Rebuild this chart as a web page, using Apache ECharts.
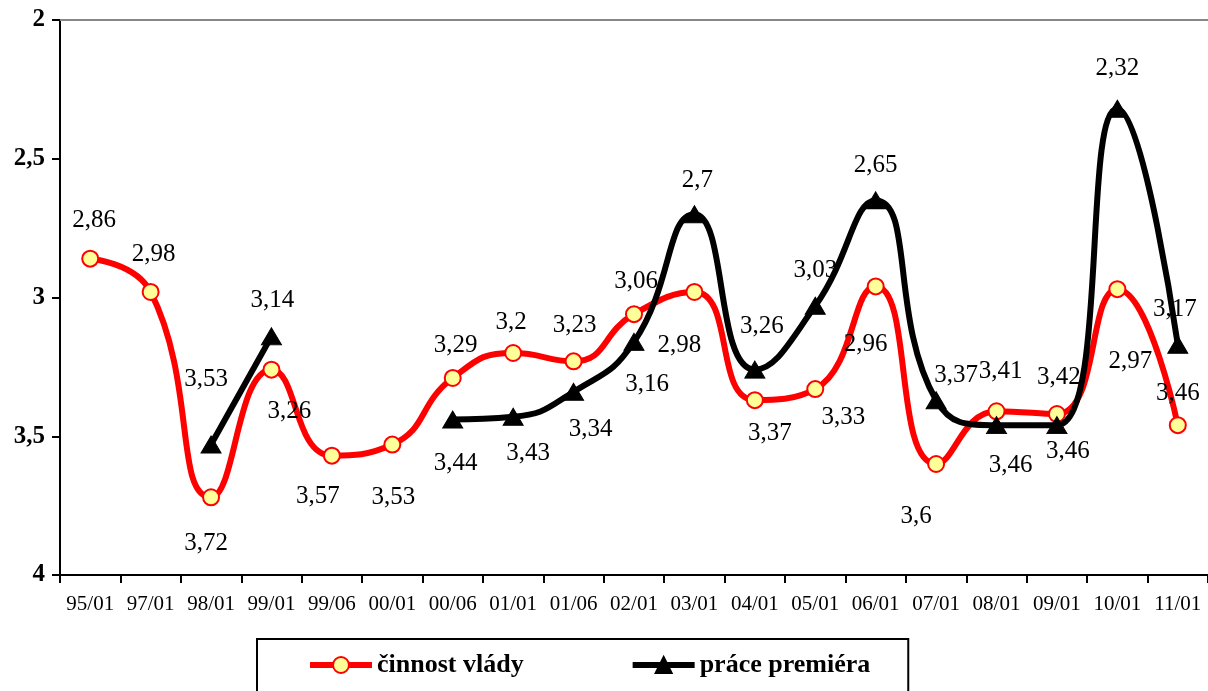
<!DOCTYPE html>
<html>
<head>
<meta charset="utf-8">
<script src="https://cdn.jsdelivr.net/npm/echarts@6/dist/echarts.min.js"></script>
<style>
html,body{margin:0;padding:0;background:#fff;}
#chart{width:1208px;height:691px;}
</style>
</head>
<body>
<div id="chart"></div>
<script>
var categories = ['95/01','97/01','98/01','99/01','99/06','00/01','00/06','01/01','01/06','02/01','03/01','04/01','05/01','06/01','07/01','08/01','09/01','10/01','11/01'];
var vladaValues = [2.86, 2.98, 3.72, 3.26, 3.57, 3.53, 3.29, 3.2, 3.23, 3.06, 2.98, 3.37, 3.33, 2.96, 3.6, 3.41, 3.42, 2.97, 3.46];
var premierValues = [null, null, 3.53, 3.14, null, null, 3.44, 3.43, 3.34, 3.16, 2.7, 3.26, 3.03, 2.65, 3.37, 3.46, 3.46, 2.32, 3.17];
var yTicks = [2, 2.5, 3, 3.5, 4];
var seriesNames = ['činnost vlády', 'práce premiéra'];

// label offsets (pixels, relative to the marker centre)
var vladaLabelOffsets = [[4,-38],[3,-38],[-5,46],[18,42],[-14,41],[1,53],[3,-33],[-2,-31],[1,-36],[2,-33],[-15,53],[15,33],[28,28],[-10,58],[-20,52],[4,-40],[2,-37],[13,72],[0,-32]];
var premierLabelOffsets = [null,null,[-5,-65],[1,-36],null,null,[3,44],[15,37],[17,38],[13,43],[3,-34],[7,-43],[0,-35],[0,-35],[20,-25],[14,40],[11,26],[0,-40],[-3,-35]];

var FONT = '"Liberation Serif", "Times New Roman", serif';
function fmt(v){ return String(v).replace('.', ','); }

function buildData(values, offsets){
  return values.map(function(v, i){
    if (v === null) return null;
    return { value: v, label: { offset: offsets[i] } };
  });
}

var chart = echarts.init(document.getElementById('chart'), null, {renderer:'canvas'});
chart.setOption({
  animation: false,
  backgroundColor: '#ffffff',
  grid: { left: 60, right: 0, top: 20, bottom: 116 },
  xAxis: [{
    type: 'category',
    data: categories,
    position: 'bottom',
    boundaryGap: true,
    axisLine: { onZero: false, lineStyle: { color: '#000', width: 2 } },
    axisTick: { show: true, alignWithLabel: false, length: 8, lineStyle: { color: '#000', width: 2 } },
    axisLabel: { color: '#000', fontFamily: FONT, fontSize: 21, margin: 19, interval: 0 },
    splitLine: { show: false }
  },{
    type: 'category',
    data: categories,
    position: 'top',
    axisLine: { onZero: false, lineStyle: { color: '#888', width: 2 } },
    axisTick: { show: false },
    axisLabel: { show: false },
    splitLine: { show: false }
  }],
  yAxis: {
    type: 'value',
    inverse: true,
    min: 2, max: 4, interval: 0.5,
    axisLine: { show: true, lineStyle: { color: '#000', width: 2 } },
    axisTick: { show: true, length: 8, lineStyle: { color: '#000', width: 2 } },
    axisLabel: { color: '#000', fontFamily: FONT, fontSize: 25, fontWeight: 'bold', margin: 15,
      formatter: function(v){ return fmt(v); } },
    splitLine: { show: false }
  },
  legend: {
    data: seriesNames,
    left: 257, top: 639,
    orient: 'horizontal',
    padding: [13, 38, 40, 50],
    itemGap: 106,
    itemWidth: 62, itemHeight: 20,
    lineStyle: { width: 6 },
    borderColor: '#000', borderWidth: 2,
    textStyle: { color: '#000', fontFamily: FONT, fontSize: 26, fontWeight: 'bold' }
  },
  series: [{
    name: seriesNames[0],
    type: 'line',
    smooth: 0.5,
    data: buildData(vladaValues, vladaLabelOffsets),
    symbol: 'circle',
    symbolSize: 16,
    itemStyle: { color: '#FFFF99', borderColor: '#FF0000', borderWidth: 2 },
    lineStyle: { color: '#FF0000', width: 6 },
    label: { show: true, position: 'inside', color: '#000', fontFamily: FONT, fontSize: 25,
      formatter: function(p){ return fmt(p.value); } },
    z: 2
  },{
    name: seriesNames[1],
    type: 'line',
    smooth: 0.5,
    connectNulls: false,
    data: buildData(premierValues, premierLabelOffsets),
    symbol: 'triangle',
    symbolSize: [20, 17],
    itemStyle: { color: '#000', borderColor: '#000', borderWidth: 1 },
    lineStyle: { color: '#000', width: 6 },
    label: { show: true, position: 'inside', color: '#000', fontFamily: FONT, fontSize: 25,
      formatter: function(p){ return fmt(p.value); } },
    z: 3
  }]
});
</script>
</body>
</html>
